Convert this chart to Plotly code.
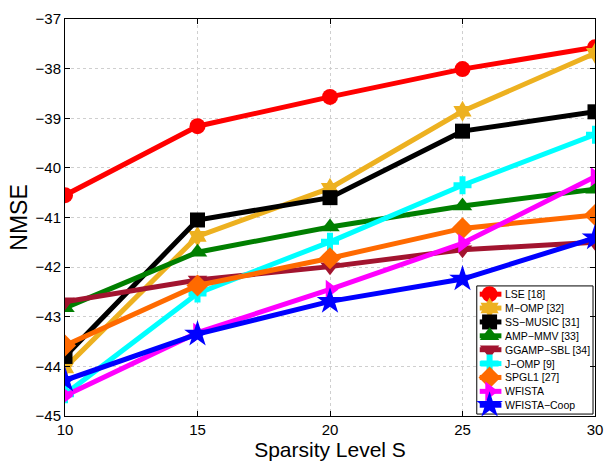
import plotly.graph_objects as go

sparsity = [10, 15, 20, 25, 30]

names = ["LSE [18]", "M\u2212OMP [32]", "SS\u2212MUSIC [31]", "AMP\u2212MMV [33]", "GGAMP\u2212SBL [34]",
         "J\u2212OMP [9]", "SPGL1 [27]", "WFISTA", "WFISTA\u2212Coop"]

lse = [-40.55, -39.16, -38.57, -38.01, -37.57]
momp = [-44.03, -41.38, -40.41, -38.86, -37.69]
ssmusic = [-43.80, -41.05, -40.60, -39.26, -38.87]
ampmmv = [-42.82, -41.70, -41.19, -40.77, -40.43]
ggampsbl = [-42.70, -42.26, -41.99, -41.65, -41.50]
jomp = [-44.56, -42.53, -41.49, -40.35, -39.33]
spgl1 = [-43.58, -42.37, -41.82, -41.22, -40.95]
wfista = [-44.59, -43.32, -42.45, -41.52, -40.18]
wfista_coop = [-44.28, -43.35, -42.69, -42.24, -41.41]

series = [lse, momp, ssmusic, ampmmv, ggampsbl, jomp, spgl1, wfista, wfista_coop]
colors = ["#FF0000", "#EDB120", "#000000", "#007F00", "#A2142F", "#00FFFF", "#FF6A00", "#FF00FF", "#0000FF"]
symbols = ["circle", "hexagram", "square", "triangle-up", "triangle-down", "cross", "diamond",
           "triangle-right", "star"]
sizes = [16, 16, 15, 17, 17, 15, 17, 17, 20]

x_ticks = [10, 15, 20, 25, 30]
y_ticks = [-45, -44, -43, -42, -41, -40, -39, -38, -37]

# figure geometry (pixels)
W, H = 613, 465
ML, MR, MT, MB = 65, 10, 18, 38
PW, PH = W - ML - MR, H - MT - MB

fig = go.Figure()
for name, ys, c, s, sz in zip(names, series, colors, symbols, sizes):
    fig.add_trace(go.Scatter(
        x=sparsity, y=ys, name=name, mode="lines+markers",
        line=dict(color=c, width=5),
        marker=dict(symbol=s, size=sz, color=c, line=dict(width=0)),
        showlegend=False,
    ))

# ---- custom legend drawn on an overlay pixel axis (layout, not data) ----
LEG_X0, LEG_X1 = 418, 536        # box, px relative to plot-area left
LEG_Y0, LEG_Y1 = 275, 407        # box, px relative to plot-area top
ROW0, ROW_STEP = 283.5, 14.3
MARK_X, SEG_X0, SEG_X1, TXT_X = 431, 421, 443, 445

fig.add_trace(go.Scatter(
    x=[LEG_X0, LEG_X1, LEG_X1, LEG_X0, LEG_X0], y=[LEG_Y0, LEG_Y0, LEG_Y1, LEG_Y1, LEG_Y0],
    xaxis="x2", yaxis="y2", mode="lines", fill="toself", fillcolor="white",
    line=dict(color="black", width=1), showlegend=False, hoverinfo="skip"))
for i, (name, c, s, sz) in enumerate(zip(names, colors, symbols, sizes)):
    yy = ROW0 + ROW_STEP * i
    fig.add_trace(go.Scatter(x=[SEG_X0, SEG_X1], y=[yy, yy], xaxis="x2", yaxis="y2", mode="lines",
                             line=dict(color=c, width=5), showlegend=False, hoverinfo="skip"))
    fig.add_trace(go.Scatter(x=[MARK_X], y=[yy], xaxis="x2", yaxis="y2", mode="markers",
                             marker=dict(symbol=s, size=sz, color=c, line=dict(width=0)),
                             showlegend=False, hoverinfo="skip", cliponaxis=False))
    fig.add_annotation(x=TXT_X, y=yy, xref="x2", yref="y2", text=name, showarrow=False,
                       xanchor="left", yanchor="middle", font=dict(size=10.5, color="black"))

axis_common = dict(
    showline=True, linecolor="black", linewidth=1, mirror="ticks",
    ticks="inside", ticklen=5, tickcolor="black",
    showgrid=True, gridcolor="#CFCFCF", griddash="dot", gridwidth=1,
    zeroline=False, tickfont=dict(size=15, color="black"),
)

fig.update_layout(
    xaxis=dict(range=[10, 30], tickvals=x_ticks, ticktext=[str(v) for v in x_ticks],
               title=dict(text="Sparsity Level S", font=dict(size=21, color="black"), standoff=2),
               **axis_common),
    yaxis=dict(range=[-45, -37], tickvals=y_ticks,
               ticktext=["\u2212" + str(abs(v)) for v in y_ticks],
               title=dict(text="NMSE", font=dict(size=23, color="black"), standoff=1),
               **axis_common),
    xaxis2=dict(overlaying="x", range=[0, PW], visible=False, fixedrange=True),
    yaxis2=dict(overlaying="y", range=[PH, 0], visible=False, fixedrange=True),
    width=W, height=H,
    margin=dict(l=ML, r=MR, t=MT, b=MB),
    paper_bgcolor="white", plot_bgcolor="white",
    font=dict(family="Liberation Sans, Arial, sans-serif", color="black"),
    showlegend=False,
)

fig.write_html("out.html")
